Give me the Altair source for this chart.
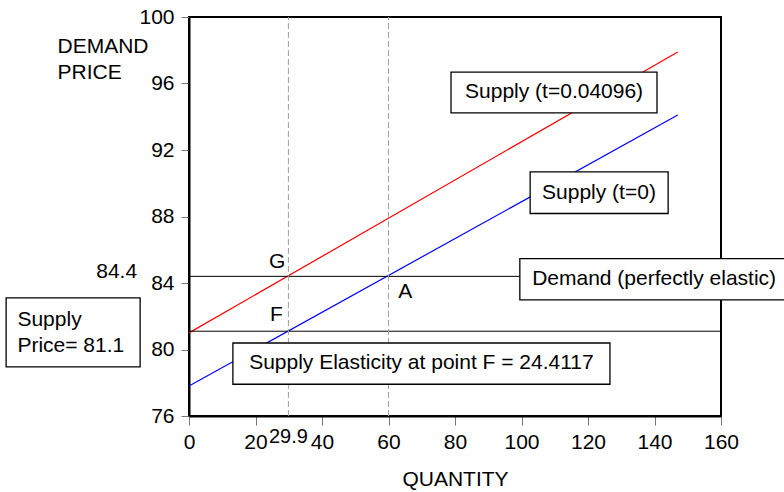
import altair as alt
import pandas as pd

# ---- data ----
supply_q = [0, 147]
supply0_p = [77.8, 94.1]        # Supply (t=0)
supply_t_p = [81.0, 97.9]       # Supply (t=0.04096)
demand_price = 84.4
supply_price = 81.1
q_f = 29.9
q_a = 60
x_ticks = [0, 20, 40, 60, 80, 100, 120, 140, 160]
y_ticks = [76, 80, 84, 88, 92, 96, 100]

FONT = "Liberation Sans"
FS = 21

X = alt.Scale(domain=[0, 160], nice=False, zero=False)
Y = alt.Scale(domain=[76, 100], nice=False, zero=False)

lines_df = pd.DataFrame({
    "q": supply_q + supply_q,
    "p": supply0_p + supply_t_p,
    "series": ["t0", "t0", "tax", "tax"],
})

common = dict(labelFont=FONT, labelFontSize=FS, labelColor="black",
              titleFont=FONT, titleFontSize=FS, titleColor="black", titleFontWeight="normal",
              domainColor="black", domainWidth=2, tickColor="#777777", tickWidth=1,
              grid=False, labelOverlap=False)

xaxis = alt.Axis(values=x_ticks, title="QUANTITY", labelFlush=False,
                 tickSize=9, labelPadding=6,
                 titleY=69, titleBaseline="alphabetic", **common)
yaxis = alt.Axis(values=y_ticks, title=["DEMAND", "PRICE"],
                 tickSize=8, labelPadding=7,
                 titleAngle=0, titleAlign="left", titleBaseline="alphabetic",
                 titleX=-132, titleY=35, titleLineHeight=26.7, **common)

lines = alt.Chart(lines_df).mark_line(strokeWidth=1.2).encode(
    x=alt.X("q:Q", scale=X, axis=xaxis),
    y=alt.Y("p:Q", scale=Y, axis=yaxis),
    color=alt.Color("series:N", scale=alt.Scale(domain=["t0", "tax"], range=["#0000ff", "#ff0000"]), legend=None),
    detail="series:N",
)

hrule_df = pd.DataFrame({"p": [demand_price, supply_price], "q1": [0, 0], "q2": [160, 160]})
hrules = alt.Chart(hrule_df).mark_rule(color="black", strokeWidth=1).encode(
    x=alt.X("q1:Q", scale=X), x2="q2:Q", y=alt.Y("p:Q", scale=Y))

vrule_df = pd.DataFrame({"q": [q_f, q_a], "p1": [76, 76], "p2": [100, 100]})
vrules = alt.Chart(vrule_df).mark_rule(color="#a0a0a0", strokeWidth=1, strokeDash=[6, 3]).encode(
    x=alt.X("q:Q", scale=X), y=alt.Y("p1:Q", scale=Y), y2="p2:Q")

box_df = pd.DataFrame({
    "q1": [78.8, 102.6, 99.5, 13.2, -55.0],
    "q2": [140.75, 144.1, 184.0, 126.6, -14.7],
    "p1": [96.69, 90.68, 85.47, 80.39, 83.10],
    "p2": [94.23, 88.18, 82.98, 77.91, 78.95],
})
boxes = alt.Chart(box_df).mark_rect(fill="white", stroke="black", strokeWidth=1.3).encode(
    x=alt.X("q1:Q", scale=X), x2="q2:Q", y=alt.Y("p1:Q", scale=Y), y2="p2:Q")

center_df = pd.DataFrame({
    "q": [109.8, 123.3, 69.9, 26.5, 26.3, 65.0],
    "p": [95.46, 89.41, 79.16, 85.28, 82.05, 83.43],
    "text": ["Supply (t=0.04096)", "Supply (t=0)", "Supply Elasticity at point F = 24.4117", "G", "F", "A"],
})
center_text = alt.Chart(center_df).mark_text(font=FONT, fontSize=FS, align="center", baseline="middle", color="black").encode(
    x=alt.X("q:Q", scale=X), y=alt.Y("p:Q", scale=Y), text="text:N")

left_df = pd.DataFrame({
    "q": [103.2, -51.6, -51.6],
    "p": [84.22, 81.77, 80.21],
    "text": ["Demand (perfectly elastic)", "Supply", "Price= 81.1"],
})
left_text = alt.Chart(left_df).mark_text(font=FONT, fontSize=FS, align="left", baseline="middle", color="black").encode(
    x=alt.X("q:Q", scale=X), y=alt.Y("p:Q", scale=Y), text="text:N")

right_df = pd.DataFrame({"q": [-15.6], "p": [84.68], "text": [str(demand_price)]})
right_text = alt.Chart(right_df).mark_text(font=FONT, fontSize=FS, align="right", baseline="middle", color="black").encode(
    x=alt.X("q:Q", scale=X), y=alt.Y("p:Q", scale=Y), text="text:N")

qf_df = pd.DataFrame({"q": [q_f], "p": [75.35], "text": [str(q_f)]})
qf_text = alt.Chart(qf_df).mark_text(font=FONT, fontSize=20, align="center", baseline="top", color="black").encode(
    x=alt.X("q:Q", scale=X), y=alt.Y("p:Q", scale=Y), text="text:N")

chart = alt.layer(lines, hrules, vrules, boxes, center_text, left_text, right_text, qf_text).properties(
    width=532, height=399,
    background="white",
    autosize=alt.AutoSizeParams(type="none"),
    padding={"left": 189, "top": 17, "right": 63, "bottom": 76},
).configure_view(stroke="black", strokeWidth=2)

chart.save("out.html", embed_options={"renderer": "svg", "actions": False})
